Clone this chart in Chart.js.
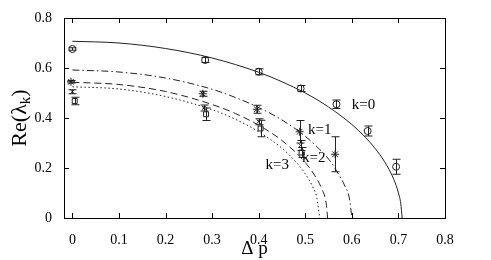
<!DOCTYPE html>
<html>
<head>
<meta charset="utf-8">
<script src="https://cdn.jsdelivr.net/npm/chart.js@4.4.1/dist/chart.umd.min.js"></script>
<style>
body{margin:0;background:#fff}
</style>
</head>
<body>
<canvas id="chart" width="491" height="260"></canvas>
<script>

// tick labels
let xTicks = [0,0.1,0.2,0.3,0.4,0.5,0.6,0.7,0.8];
let yTicks = [0,0.2,0.4,0.6,0.8];

// theory curves
let k0X = [0,0.1,0.2,0.3,0.4,0.45,0.5,0.55,0.6,0.63,0.65,0.67,0.69,0.70,0.705,0.708];
let k0Y = [0.707,0.700,0.678,0.640,0.583,0.545,0.500,0.444,0.374,0.321,0.278,0.226,0.155,0.100,0.058,0];
let k1X = [0,0.1,0.2,0.3,0.35,0.4,0.45,0.5,0.53,0.55,0.57,0.585,0.595,0.6];
let k1Y = [0.592,0.584,0.560,0.515,0.482,0.442,0.392,0.327,0.276,0.236,0.180,0.128,0.076,0];
let k2X = [0,0.1,0.2,0.3,0.35,0.4,0.45,0.5,0.52,0.535,0.545,0.548];
let k2Y = [0.543,0.534,0.506,0.454,0.418,0.371,0.310,0.222,0.171,0.118,0.057,0];
let k3X = [0,0.1,0.2,0.3,0.35,0.4,0.45,0.48,0.5,0.515,0.525,0.531];
let k3Y = [0.525,0.516,0.486,0.433,0.395,0.345,0.279,0.224,0.177,0.128,0.079,0];

// simulation points with error bars
let p0X = [0,0.285,0.40,0.49,0.567,0.634,0.695];
let p0Y = [0.676,0.632,0.585,0.518,0.455,0.348,0.205];
let p0E = [0.005,0.01,0.012,0.012,0.017,0.02,0.03];
let p1X = [-0.003,0.28,0.396,0.488,0.564];
let p1Y = [0.545,0.497,0.435,0.345,0.255];
let p1E = [0.005,0.01,0.016,0.045,0.07];
let p2X = [0,0.283,0.40,0.49];
let p2Y = [0.505,0.44,0.385,0.29];
let p2E = [0.008,0.012,0.012,0.02];
let p3X = [0.005,0.287,0.404,0.492];
let p3Y = [0.468,0.415,0.358,0.262];
let p3E = [0.015,0.025,0.033,0.02];

// curve labels
let labelText = ["k=0","k=1","k=2","k=3"];
let labelX = [0.625,0.531,0.518,0.44];
let labelY = [0.452,0.352,0.24,0.212];

const ink = "#222";
const serif = "'Liberation Serif', 'DejaVu Serif', serif";

function pts(xs, ys){
return xs.map((x,i) => ({x:x, y:ys[i]}));
}

function curve(xs, ys, dash){
return {
data: pts(xs, ys),
showLine: true,
borderColor: ink,
borderWidth: 1,
borderDash: dash,
pointRadius: 0,
cubicInterpolationMode: "monotone",
fill: false
};
}

function marks(xs, ys, errs, style, r){
return {
data: pts(xs, ys),
errs: errs,
showLine: false,
pointStyle: style,
pointRadius: r,
borderColor: ink,
backgroundColor: "rgba(0,0,0,0)",
borderWidth: 1
};
}

// frame, inward ticks, error bars and text
const decor = {
id: "decor",
afterDatasetsDraw(chart){
const ctx = chart.ctx;
const a = chart.chartArea;
const xs = chart.scales.x;
const ys = chart.scales.y;
ctx.save();
ctx.strokeStyle = ink;
ctx.lineWidth = 1;

// error bars
chart.data.datasets.forEach(ds => {
if(!ds.errs) return;
ds.data.forEach((p,i) => {
let px = Math.round(xs.getPixelForValue(p.x)) + 0.5;
let top = ys.getPixelForValue(p.y + ds.errs[i]);
let bot = ys.getPixelForValue(p.y - ds.errs[i]);
ctx.beginPath();
ctx.moveTo(px, top); ctx.lineTo(px, bot);
ctx.moveTo(px-4, top); ctx.lineTo(px+4, top);
ctx.moveTo(px-4, bot); ctx.lineTo(px+4, bot);
ctx.stroke();
});
});

// frame
ctx.strokeStyle = "#000";
ctx.strokeRect(a.left+0.5, a.top+0.5, a.right-a.left, a.bottom-a.top);

// ticks pointing inward on all sides
ctx.beginPath();
xTicks.forEach(v => {
let px = Math.round(xs.getPixelForValue(v)) + 0.5;
ctx.moveTo(px, a.bottom); ctx.lineTo(px, a.bottom-5);
ctx.moveTo(px, a.top); ctx.lineTo(px, a.top+5);
});
yTicks.forEach(v => {
let py = Math.round(ys.getPixelForValue(v)) + 0.5;
ctx.moveTo(a.left, py); ctx.lineTo(a.left+5, py);
ctx.moveTo(a.right, py); ctx.lineTo(a.right-5, py);
});
ctx.stroke();

// curve labels
ctx.fillStyle = "#000";
ctx.font = "15px " + serif;
ctx.textAlign = "center";
ctx.textBaseline = "middle";
labelText.forEach((t,i) => {
ctx.fillText(t, xs.getPixelForValue(labelX[i]), ys.getPixelForValue(labelY[i]));
});

// y title with subscript
ctx.translate(19, (a.top + a.bottom)/2);
ctx.rotate(-Math.PI/2);
let main = "Re(\u03bb";
ctx.font = "22px " + serif;
let w1 = ctx.measureText(main).width;
ctx.font = "15px " + serif;
let w2 = ctx.measureText("k").width;
ctx.font = "22px " + serif;
let w3 = ctx.measureText(")").width;
let x0 = -(w1 + w2 + w3)/2;
ctx.textAlign = "left";
ctx.textBaseline = "alphabetic";
ctx.fillText(main, x0, 7);
ctx.font = "15px " + serif;
ctx.fillText("k", x0 + w1, 11);
ctx.font = "22px " + serif;
ctx.fillText(")", x0 + w1 + w2, 7);
ctx.restore();
}
};

new Chart(document.getElementById("chart"), {
type: "scatter",
data: {
datasets: [
curve(k0X, k0Y, []),
curve(k1X, k1Y, [7,3,1.5,3]),
curve(k2X, k2Y, [7,4]),
curve(k3X, k3Y, [1.5,2.5]),
marks(p0X, p0Y, p0E, "circle", 3.5),
marks(p1X, p1Y, p1E, "star", 4),
marks(p2X, p2Y, p2E, "crossRot", 3),
marks(p3X, p3Y, p3E, "rect", 3.5)
]
},
options: {
responsive: false,
animation: false,
layout: { padding: { top: 18, right: 46, left: 0, bottom: 0 } },
plugins: {
legend: { display: false },
tooltip: { enabled: false }
},
scales: {
x: {
type: "linear",
min: -0.018,
max: 0.8,
afterBuildTicks: s => { s.ticks = xTicks.map(v => ({value: v})); },
afterFit: s => { s.height = 42; },
grid: { display: false },
border: { display: false },
ticks: {
padding: 6,
color: "#000",
font: { family: serif, size: 14 },
callback: v => v === 0 ? "0" : v.toFixed(1)
},
title: {
display: true,
text: "\u0394 p",
color: "#000",
font: { family: serif, size: 19 },
padding: { top: 0, bottom: 0 }
}
},
y: {
type: "linear",
min: 0,
max: 0.8,
afterBuildTicks: s => { s.ticks = yTicks.map(v => ({value: v})); },
afterFit: s => { s.width = 64; },
grid: { display: false },
border: { display: false },
ticks: {
padding: 4,
color: "#000",
font: { family: serif, size: 14 },
callback: v => v === 0 ? "0" : v.toFixed(1)
}
}
}
},
plugins: [decor]
});

</script>
</body>
</html>
